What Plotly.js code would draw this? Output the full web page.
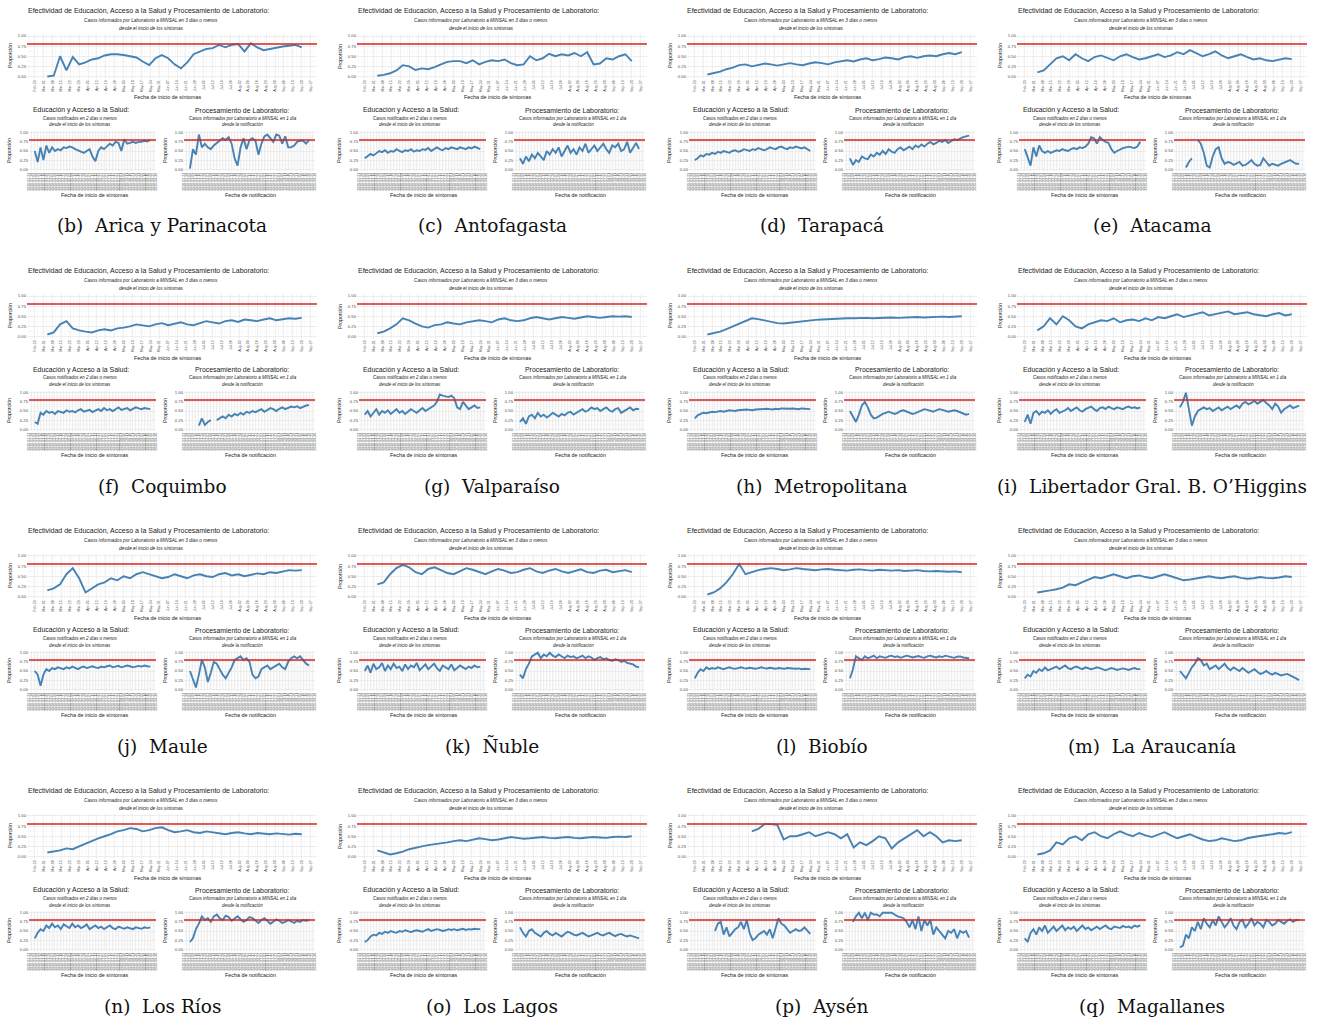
<!DOCTYPE html>
<html><head><meta charset="utf-8">
<script src="https://cdn.plot.ly/plotly-3.0.1.min.js"></script>
<style>html,body{margin:0;padding:0;background:#fff}#chart{width:1326px;height:1022px}</style>
</head><body><div id="chart"></div>
<script>
// ---- data ----
const dates = ['2020-03-04','2020-03-09','2020-03-14','2020-03-19','2020-03-24','2020-03-29','2020-04-03','2020-04-08','2020-04-13','2020-04-18','2020-04-23','2020-04-28','2020-05-03','2020-05-08','2020-05-13','2020-05-18','2020-05-23','2020-05-28','2020-06-02','2020-06-07','2020-06-12','2020-06-17','2020-06-22','2020-06-27','2020-07-02','2020-07-07','2020-07-12','2020-07-17','2020-07-22','2020-07-27','2020-08-01','2020-08-06','2020-08-11','2020-08-16','2020-08-21','2020-08-26','2020-08-31','2020-09-05','2020-09-10','2020-09-15','2020-09-20'];

const captions = ['(b)\u00a0 Arica y Parinacota','(c)\u00a0 Antofagasta','(d)\u00a0 Tarapacá','(e)\u00a0 Atacama','(f)\u00a0 Coquimbo','(g)\u00a0 Valparaíso','(h)\u00a0 Metropolitana',"(i)\u00a0 Libertador Gral. B. O’Higgins",'(j)\u00a0 Maule','(k)\u00a0 Ñuble','(l)\u00a0 Biobío','(m)\u00a0 La Araucanía','(n)\u00a0 Los Ríos','(o)\u00a0 Los Lagos','(p)\u00a0 Aysén','(q)\u00a0 Magallanes'];

const topTitle = 'Efectividad de Educación, Acceso a la Salud y Procesamiento de Laboratorio:';
const topSub = ['Casos informados por Laboratorio a MINSAL en 3 días o menos','desde el inicio de los síntomas'];
const eduTitle = 'Educación y Acceso a la Salud:';
const eduSub = ['Casos notificados en 2 días o menos','desde el inicio de los síntomas'];
const labTitle = 'Procesamiento de Laboratorio:';
const labSub = ['Casos informados por Laboratorio a MINSAL en 1 día','desde la notificación'];
const yTitle = 'Proporción';
const xTitleSint = 'Fecha de inicio de síntomas';
const xTitleNotif = 'Fecha de notificación';
const target = 0.8;
const yTicks = [0, 0.25, 0.5, 0.75, 1];

const aricaTop = [0.00,0.02,0.50,0.15,0.48,0.30,0.35,0.42,0.45,0.52,0.55,0.55,0.53,0.50,0.47,0.37,0.28,0.45,0.53,0.45,0.30,0.20,0.35,0.55,0.62,0.68,0.70,0.78,0.72,0.78,0.80,0.62,0.82,0.72,0.65,0.68,0.72,0.74,0.76,0.78,0.72];
const aricaEdu = [0.50,0.20,0.60,0.25,0.65,0.45,0.60,0.50,0.55,0.52,0.60,0.58,0.62,0.60,0.55,0.52,0.50,0.45,0.50,0.55,0.35,0.22,0.50,0.60,0.55,0.62,0.70,0.65,0.75,0.72,0.50,0.82,0.70,0.72,0.75,0.72,0.75,0.75,0.78,0.76,0.80];
const aricaLab = [0.02,0.55,0.40,0.95,0.60,0.70,0.60,0.55,0.65,0.72,0.80,0.85,0.80,0.88,0.70,0.30,0.10,0.60,0.85,0.55,0.80,0.85,0.78,0.40,0.70,0.90,0.95,0.85,0.75,0.95,0.92,0.70,0.90,0.60,0.60,0.65,0.75,0.78,0.78,0.70,0.80];

const antofTop = [0.02,0.04,0.08,0.15,0.28,0.25,0.16,0.20,0.18,0.23,0.30,0.36,0.38,0.38,0.33,0.40,0.30,0.36,0.40,0.38,0.42,0.33,0.28,0.30,0.50,0.40,0.45,0.56,0.50,0.55,0.52,0.58,0.50,0.60,0.30,0.32,0.45,0.42,0.50,0.55,0.38];
const antofEdu = [0.30,0.35,0.42,0.38,0.45,0.50,0.47,0.52,0.45,0.50,0.48,0.55,0.50,0.47,0.52,0.50,0.55,0.48,0.52,0.50,0.55,0.53,0.58,0.50,0.55,0.60,0.55,0.52,0.58,0.55,0.60,0.57,0.55,0.60,0.58,0.55,0.60,0.57,0.62,0.58,0.55];
const antofLab = [0.30,0.15,0.35,0.22,0.40,0.30,0.45,0.35,0.25,0.50,0.40,0.55,0.45,0.60,0.35,0.50,0.65,0.45,0.55,0.40,0.60,0.50,0.70,0.45,0.55,0.65,0.50,0.60,0.70,0.55,0.45,0.65,0.60,0.70,0.50,0.55,0.75,0.45,0.60,0.72,0.55];

const tarapTop = [0.05,0.08,0.12,0.18,0.22,0.28,0.30,0.25,0.28,0.32,0.30,0.27,0.30,0.33,0.30,0.28,0.32,0.35,0.33,0.30,0.35,0.38,0.40,0.37,0.42,0.45,0.40,0.43,0.47,0.45,0.42,0.48,0.50,0.46,0.50,0.52,0.50,0.55,0.58,0.55,0.60];
const tarapEdu = [0.25,0.30,0.38,0.35,0.42,0.40,0.45,0.42,0.48,0.45,0.50,0.47,0.45,0.50,0.52,0.48,0.50,0.55,0.52,0.50,0.55,0.53,0.58,0.55,0.52,0.55,0.60,0.57,0.55,0.60,0.62,0.58,0.55,0.60,0.58,0.62,0.60,0.57,0.60,0.55,0.50];
const tarapLab = [0.30,0.12,0.25,0.20,0.35,0.30,0.28,0.40,0.35,0.45,0.40,0.50,0.42,0.55,0.48,0.45,0.55,0.60,0.52,0.58,0.62,0.55,0.65,0.60,0.68,0.62,0.70,0.75,0.68,0.72,0.78,0.75,0.80,0.72,0.78,0.82,0.80,0.85,0.88,0.90,0.92];

const atacTop = [0.10,0.15,0.30,0.45,0.50,0.40,0.55,0.45,0.38,0.48,0.52,0.45,0.40,0.50,0.55,0.48,0.42,0.45,0.50,0.55,0.48,0.52,0.60,0.55,0.65,0.58,0.50,0.55,0.62,0.52,0.45,0.50,0.55,0.48,0.42,0.45,0.40,0.38,0.42,0.45,0.43];
const atacEdu = [0.55,0.30,0.10,0.60,0.35,0.65,0.50,0.45,0.50,0.45,0.48,0.52,0.50,0.55,0.52,0.50,0.55,0.58,0.55,0.60,0.58,0.62,0.70,0.88,0.85,0.70,0.88,0.80,0.75,0.72,0.55,0.45,0.50,0.55,0.58,0.60,0.62,0.60,0.58,0.62,0.75];
const atacLab = [null,null,0.05,0.20,0.30,null,0.80,0.70,0.45,0.10,0.05,0.35,0.55,0.60,0.30,0.15,0.20,0.18,0.12,0.15,0.20,0.10,0.12,0.18,0.25,0.15,0.10,0.12,0.30,0.20,0.10,0.15,0.12,0.10,0.15,0.18,0.22,0.25,0.20,0.15,0.15];

const coqTop = [0.05,0.10,0.30,0.38,0.20,0.15,0.12,0.10,0.15,0.18,0.15,0.20,0.22,0.25,0.30,0.28,0.25,0.30,0.33,0.28,0.32,0.35,0.30,0.28,0.33,0.38,0.35,0.32,0.38,0.40,0.36,0.42,0.40,0.38,0.42,0.45,0.40,0.43,0.45,0.44,0.46];
const coqEdu = [0.20,0.15,0.45,0.40,0.50,0.45,0.48,0.42,0.50,0.47,0.45,0.52,0.48,0.50,0.46,0.52,0.55,0.48,0.50,0.53,0.47,0.52,0.55,0.50,0.58,0.52,0.55,0.50,0.56,0.60,0.53,0.55,0.58,0.52,0.55,0.60,0.57,0.55,0.58,0.56,0.55];
const coqLab = [null,null,null,0.10,0.30,0.12,0.20,0.25,null,0.25,0.30,0.35,0.30,0.40,0.35,0.42,0.38,0.45,0.40,0.48,0.45,0.50,0.47,0.52,0.55,0.48,0.52,0.58,0.55,0.50,0.56,0.60,0.55,0.58,0.62,0.60,0.63,0.58,0.62,0.65,0.66];

const valpTop = [0.08,0.12,0.20,0.30,0.45,0.40,0.32,0.25,0.22,0.28,0.30,0.35,0.32,0.30,0.35,0.38,0.40,0.38,0.35,0.42,0.45,0.40,0.38,0.40,0.45,0.48,0.45,0.42,0.45,0.48,0.46,0.44,0.47,0.50,0.48,0.46,0.48,0.50,0.49,0.50,0.48];
const valpEdu = [0.40,0.50,0.35,0.45,0.55,0.40,0.50,0.45,0.52,0.42,0.48,0.55,0.45,0.50,0.42,0.48,0.55,0.50,0.45,0.52,0.58,0.50,0.55,0.60,0.65,0.75,0.95,0.92,0.90,0.88,0.92,0.85,0.60,0.55,0.75,0.65,0.55,0.60,0.65,0.58,0.60];
const valpLab = [0.20,0.30,0.15,0.35,0.40,0.30,0.45,0.35,0.40,0.32,0.38,0.45,0.40,0.35,0.42,0.38,0.45,0.48,0.40,0.45,0.50,0.55,0.48,0.52,0.60,0.55,0.58,0.50,0.55,0.60,0.52,0.48,0.55,0.58,0.45,0.50,0.55,0.60,0.52,0.56,0.55];

const metroTop = [0.05,0.08,0.12,0.18,0.25,0.32,0.40,0.45,0.43,0.40,0.36,0.33,0.32,0.34,0.36,0.38,0.40,0.41,0.42,0.43,0.44,0.44,0.45,0.45,0.46,0.46,0.45,0.46,0.47,0.47,0.46,0.47,0.48,0.48,0.47,0.48,0.49,0.49,0.48,0.49,0.50];
const metroEdu = [0.30,0.38,0.42,0.45,0.44,0.46,0.48,0.47,0.49,0.50,0.48,0.50,0.52,0.51,0.50,0.52,0.53,0.52,0.54,0.53,0.52,0.54,0.55,0.54,0.55,0.56,0.55,0.54,0.56,0.55,0.57,0.56,0.55,0.56,0.57,0.56,0.55,0.57,0.56,0.55,0.55];
const metroLab = [0.50,0.35,0.20,0.40,0.65,0.75,0.60,0.40,0.30,0.32,0.38,0.42,0.45,0.48,0.45,0.42,0.45,0.50,0.52,0.48,0.45,0.42,0.44,0.48,0.52,0.55,0.53,0.50,0.48,0.52,0.55,0.53,0.50,0.48,0.50,0.52,0.50,0.47,0.45,0.40,0.42];

const ohigTop = [0.15,0.25,0.45,0.30,0.50,0.40,0.25,0.20,0.30,0.35,0.40,0.38,0.45,0.35,0.40,0.42,0.38,0.45,0.40,0.48,0.45,0.50,0.55,0.48,0.52,0.55,0.60,0.52,0.55,0.58,0.62,0.55,0.57,0.60,0.55,0.52,0.50,0.55,0.58,0.52,0.55];
const ohigEdu = [0.20,0.40,0.15,0.45,0.50,0.40,0.48,0.45,0.52,0.42,0.50,0.55,0.45,0.48,0.52,0.58,0.50,0.55,0.60,0.52,0.48,0.55,0.58,0.62,0.55,0.50,0.58,0.60,0.55,0.62,0.58,0.55,0.60,0.57,0.55,0.60,0.62,0.58,0.60,0.57,0.60];
const ohigLab = [0.60,0.75,1.00,0.55,0.10,0.35,0.50,0.55,0.60,0.55,0.58,0.50,0.55,0.60,0.52,0.58,0.62,0.55,0.60,0.65,0.58,0.70,0.75,0.68,0.72,0.78,0.70,0.75,0.80,0.72,0.65,0.55,0.70,0.62,0.45,0.55,0.60,0.65,0.58,0.62,0.65];

const mauleTop = [0.15,0.20,0.30,0.55,0.70,0.45,0.10,0.20,0.30,0.35,0.45,0.40,0.50,0.45,0.55,0.60,0.55,0.50,0.45,0.48,0.55,0.50,0.45,0.52,0.55,0.50,0.48,0.55,0.58,0.52,0.55,0.50,0.53,0.57,0.55,0.60,0.58,0.62,0.65,0.64,0.65];
const mauleEdu = [0.50,0.40,0.10,0.40,0.55,0.50,0.58,0.55,0.60,0.58,0.55,0.60,0.57,0.62,0.58,0.55,0.60,0.62,0.58,0.60,0.63,0.60,0.58,0.62,0.60,0.63,0.65,0.60,0.62,0.64,0.60,0.62,0.65,0.63,0.60,0.62,0.64,0.62,0.65,0.63,0.62];
const mauleLab = [0.50,0.30,0.05,0.40,0.80,0.60,0.20,0.45,0.75,0.70,0.55,0.40,0.30,0.45,0.60,0.80,0.85,0.90,0.80,0.85,0.75,0.40,0.30,0.35,0.55,0.60,0.65,0.55,0.60,0.65,0.70,0.60,0.55,0.75,0.85,0.90,0.85,0.90,0.80,0.70,0.65];

const nubleTop = [0.30,0.35,0.55,0.70,0.78,0.72,0.60,0.55,0.68,0.72,0.65,0.58,0.55,0.62,0.70,0.66,0.60,0.55,0.62,0.68,0.64,0.58,0.60,0.66,0.70,0.62,0.58,0.64,0.68,0.62,0.58,0.63,0.67,0.60,0.58,0.64,0.66,0.60,0.62,0.65,0.60];
const nubleEdu = [0.50,0.65,0.45,0.70,0.55,0.60,0.72,0.50,0.65,0.55,0.70,0.58,0.62,0.50,0.68,0.55,0.65,0.60,0.72,0.52,0.60,0.68,0.55,0.62,0.70,0.58,0.50,0.65,0.60,0.55,0.68,0.52,0.58,0.65,0.60,0.55,0.62,0.58,0.65,0.60,0.62];
const nubleLab = [0.40,0.30,0.55,0.70,0.90,0.95,1.00,0.85,0.95,0.90,1.00,0.92,0.88,0.95,0.90,0.85,0.92,0.88,0.90,0.85,0.88,0.92,0.85,0.90,0.87,0.80,0.85,0.88,0.82,0.85,0.80,0.78,0.82,0.80,0.75,0.78,0.72,0.70,0.68,0.62,0.60];

const biobioTop = [0.05,0.10,0.20,0.35,0.55,0.80,0.55,0.60,0.65,0.68,0.70,0.68,0.65,0.67,0.70,0.68,0.66,0.65,0.67,0.68,0.66,0.65,0.64,0.66,0.67,0.65,0.64,0.66,0.65,0.64,0.65,0.63,0.64,0.65,0.63,0.62,0.63,0.62,0.61,0.62,0.60];
const biobioEdu = [0.30,0.45,0.55,0.50,0.60,0.55,0.58,0.56,0.60,0.57,0.55,0.58,0.60,0.57,0.56,0.58,0.60,0.58,0.57,0.59,0.58,0.56,0.58,0.60,0.58,0.57,0.59,0.58,0.56,0.58,0.57,0.56,0.58,0.57,0.55,0.56,0.57,0.55,0.56,0.55,0.55];
const biobioLab = [0.30,0.55,0.90,0.85,0.80,0.90,0.85,0.88,0.92,0.85,0.90,0.88,0.86,0.90,0.92,0.88,0.90,0.86,0.88,0.92,0.90,0.87,0.89,0.91,0.88,0.86,0.90,0.92,0.89,0.87,0.90,0.88,0.92,0.90,0.88,0.86,0.89,0.90,0.87,0.86,0.85];

const araucTop = [0.10,0.12,0.15,0.18,0.22,0.30,0.28,0.35,0.42,0.48,0.45,0.50,0.55,0.50,0.45,0.50,0.52,0.48,0.45,0.50,0.55,0.50,0.45,0.40,0.42,0.45,0.48,0.50,0.47,0.45,0.48,0.50,0.46,0.44,0.45,0.48,0.46,0.45,0.47,0.50,0.48];
const araucEdu = [0.30,0.40,0.35,0.50,0.45,0.55,0.50,0.60,0.52,0.55,0.58,0.62,0.55,0.60,0.65,0.58,0.55,0.60,0.62,0.58,0.55,0.60,0.58,0.55,0.57,0.60,0.58,0.55,0.52,0.55,0.58,0.56,0.53,0.55,0.57,0.55,0.53,0.56,0.58,0.55,0.55];
const araucLab = [0.50,0.40,0.30,0.45,0.60,0.70,0.85,0.80,0.65,0.70,0.55,0.60,0.65,0.55,0.62,0.70,0.58,0.52,0.60,0.55,0.50,0.58,0.52,0.45,0.50,0.55,0.48,0.42,0.45,0.50,0.44,0.40,0.45,0.42,0.38,0.40,0.42,0.38,0.35,0.30,0.25];

const riosTop = [0.10,0.12,0.15,0.20,0.18,0.25,0.32,0.40,0.45,0.50,0.55,0.62,0.65,0.70,0.68,0.62,0.65,0.70,0.72,0.65,0.60,0.62,0.65,0.60,0.58,0.62,0.60,0.58,0.55,0.58,0.60,0.57,0.55,0.58,0.56,0.55,0.57,0.55,0.54,0.56,0.55];
const riosEdu = [0.30,0.45,0.55,0.50,0.65,0.58,0.70,0.60,0.65,0.55,0.68,0.62,0.58,0.70,0.60,0.65,0.58,0.62,0.68,0.55,0.60,0.65,0.58,0.62,0.55,0.60,0.65,0.58,0.55,0.62,0.60,0.56,0.60,0.58,0.55,0.60,0.58,0.56,0.60,0.58,0.60];
const riosLab = [0.20,0.30,0.55,0.70,0.90,0.80,0.85,0.75,0.90,0.95,0.85,0.80,0.92,0.88,0.78,0.85,0.90,0.82,0.75,0.80,0.88,0.85,0.78,0.72,0.80,0.85,0.78,0.70,0.75,0.82,0.78,0.72,0.75,0.80,0.76,0.72,0.78,0.75,0.80,0.78,0.80];

const lagosTop = [0.15,0.10,0.05,0.08,0.12,0.18,0.22,0.25,0.28,0.30,0.32,0.35,0.38,0.40,0.38,0.42,0.45,0.43,0.40,0.42,0.45,0.48,0.46,0.44,0.45,0.47,0.48,0.46,0.45,0.47,0.48,0.46,0.45,0.47,0.48,0.47,0.46,0.48,0.49,0.48,0.50];
const lagosEdu = [0.20,0.25,0.35,0.40,0.38,0.45,0.42,0.48,0.45,0.50,0.47,0.45,0.50,0.48,0.52,0.50,0.47,0.50,0.52,0.50,0.48,0.52,0.55,0.50,0.52,0.55,0.53,0.50,0.52,0.55,0.53,0.55,0.52,0.54,0.56,0.53,0.55,0.54,0.56,0.55,0.55];
const lagosLab = [0.60,0.45,0.35,0.50,0.55,0.45,0.40,0.35,0.45,0.50,0.42,0.38,0.45,0.40,0.35,0.42,0.48,0.45,0.40,0.38,0.42,0.45,0.40,0.35,0.38,0.42,0.45,0.40,0.38,0.42,0.45,0.40,0.36,0.40,0.42,0.38,0.35,0.38,0.36,0.32,0.30];

const aysenTop = [null,null,null,null,null,null,null,0.62,0.68,0.80,0.80,0.78,0.42,0.50,0.50,0.55,0.60,0.50,0.55,0.60,0.55,0.45,0.55,0.22,0.35,0.28,0.38,0.50,0.45,0.20,0.35,0.45,0.55,0.65,0.50,0.60,0.50,0.35,0.40,0.38,0.40];
const aysenEdu = [null,null,null,null,null,null,null,0.50,0.70,0.75,0.40,0.60,0.35,0.45,0.55,0.60,0.75,0.55,0.80,0.45,0.25,0.30,0.40,0.45,0.50,0.40,0.55,0.30,0.55,0.85,0.70,0.65,0.55,0.45,0.50,0.55,0.50,0.52,0.60,0.50,0.42];
const aysenLab = [null,0.75,0.90,1.00,0.85,1.00,0.80,1.00,0.95,0.95,0.90,1.00,1.00,0.98,1.00,0.95,0.90,0.88,0.85,0.75,0.60,0.80,0.55,0.90,0.50,0.80,0.65,0.80,0.40,0.60,0.50,0.40,0.30,0.50,0.45,0.55,0.30,0.50,0.45,0.50,0.32];

const magTop = [0.05,0.08,0.15,0.35,0.30,0.45,0.50,0.40,0.55,0.60,0.50,0.45,0.55,0.62,0.55,0.50,0.58,0.52,0.48,0.55,0.60,0.52,0.45,0.50,0.55,0.48,0.42,0.38,0.40,0.45,0.42,0.38,0.40,0.45,0.48,0.50,0.52,0.55,0.58,0.56,0.60];
const magEdu = [0.30,0.20,0.45,0.55,0.40,0.60,0.50,0.65,0.45,0.55,0.62,0.50,0.58,0.65,0.52,0.60,0.55,0.62,0.50,0.58,0.65,0.55,0.60,0.52,0.58,0.62,0.55,0.60,0.65,0.58,0.55,0.62,0.60,0.58,0.64,0.60,0.62,0.58,0.65,0.62,0.65];
const magLab = [0.05,0.10,0.40,0.30,0.60,0.50,0.75,0.55,0.85,0.70,0.60,0.80,0.65,0.90,0.75,0.60,0.70,0.85,0.65,0.55,0.75,0.80,0.60,0.70,0.85,0.65,0.75,0.70,0.60,0.80,0.75,0.65,0.70,0.80,0.75,0.70,0.78,0.82,0.75,0.80,0.80];

const panels = [
  [aricaTop, aricaEdu, aricaLab], [antofTop, antofEdu, antofLab], [tarapTop, tarapEdu, tarapLab], [atacTop, atacEdu, atacLab],
  [coqTop, coqEdu, coqLab], [valpTop, valpEdu, valpLab], [metroTop, metroEdu, metroLab], [ohigTop, ohigEdu, ohigLab],
  [mauleTop, mauleEdu, mauleLab], [nubleTop, nubleEdu, nubleLab], [biobioTop, biobioEdu, biobioLab], [araucTop, araucEdu, araucLab],
  [riosTop, riosEdu, riosLab], [lagosTop, lagosEdu, lagosLab], [aysenTop, aysenEdu, aysenLab], [magTop, magEdu, magLab]
];

// ---- layout geometry (pixels) ----
const W = 1326, H = 1022;
const colStep = 330, rowStep = 260;
const boxes = {
  top: {x0: 27, x1: 317, y1: 36, y0: 76.5, range: ['2020-02-17', '2020-10-02'], dtick: 7, fmt: '%b-%d', fs: 3.6},
  edu: {x0: 29, x1: 156, y1: 132.7, y0: 169.3, range: ['2020-02-23', '2020-09-30'], dtick: 5, fmt: '%Y-%m-%d', fs: 3.5},
  lab: {x0: 184, x1: 315, y1: 132.7, y0: 169.3, range: ['2020-02-23', '2020-09-30'], dtick: 5, fmt: '%Y-%m-%d', fs: 3.5}
};
const DAY = 86400000;
const traces = [];
const layout = {
  width: W, height: H, margin: {l: 0, r: 0, t: 0, b: 0}, showlegend: false,
  paper_bgcolor: '#ffffff', plot_bgcolor: '#ffffff',
  font: {family: 'Liberation Sans, Arial, sans-serif', color: '#1a1a1a'},
  annotations: [], shapes: []
};
const fx = x => x / W, fy = y => 1 - y / H;
function ann(text, x, y, size, extra) {
  layout.annotations.push(Object.assign({text: text, x: fx(x), y: fy(y), xref: 'paper', yref: 'paper',
    showarrow: false, xanchor: 'center', yanchor: 'middle', font: {size: size, color: '#1a1a1a'}}, extra || {}));
}
let k = 0;
function addSub(vals, ox, oy, b) {
  k++;
  const sfx = k === 1 ? '' : String(k);
  const span = b.y0 - b.y1;
  const yTopPx = oy + b.y1 - 0.05 * span, yBotPx = oy + b.y0 + 0.05 * span;
  layout['xaxis' + sfx] = {
    domain: [fx(ox + b.x0), fx(ox + b.x1)], anchor: 'y' + sfx, type: 'date', range: b.range,
    tick0: '2020-02-23', dtick: b.dtick * DAY, tickformat: b.fmt, tickangle: -90,
    tickfont: {size: b.fs, color: '#4d4d4d'}, showgrid: true, gridcolor: '#e6e6e6', gridwidth: 0.6,
    minor: {showgrid: true, gridcolor: '#f2f2f2', gridwidth: 0.4, dtick: b.dtick * DAY / 2},
    zeroline: false, showline: false, ticks: '', fixedrange: true
  };
  layout['yaxis' + sfx] = {
    domain: [fy(yBotPx), fy(yTopPx)], anchor: 'x' + sfx, range: [-0.05, 1.05],
    tickvals: yTicks, tickformat: '.2f', tickfont: {size: 4.2, color: '#4d4d4d'},
    showgrid: true, gridcolor: '#e6e6e6', gridwidth: 0.6,
    minor: {showgrid: true, gridcolor: '#f2f2f2', gridwidth: 0.4, tickmode: 'linear', tick0: 0, dtick: 0.125},
    zeroline: false, showline: false, ticks: '', fixedrange: true
  };
  traces.push({x: dates, y: vals, type: 'scatter', mode: 'lines', xaxis: 'x' + sfx, yaxis: 'y' + sfx,
    line: {color: '#4682B4', width: 1.9}, connectgaps: false, hoverinfo: 'skip'});
  layout.shapes.push({type: 'line', xref: 'x' + sfx + ' domain', x0: 0, x1: 1, yref: 'y' + sfx, y0: target, y1: target,
    line: {color: '#d1261f', width: 1.5}});
}

panels.forEach((p, idx) => {
  const ox = (idx % 4) * colStep, oy = Math.floor(idx / 4) * rowStep;
  addSub(p[0], ox, oy, boxes.top);
  addSub(p[1], ox, oy, boxes.edu);
  addSub(p[2], ox, oy, boxes.lab);
  // top subplot texts
  ann(topTitle, ox + 148, oy + 11, 7.0);
  ann('<i>' + topSub[0] + '</i>', ox + 151, oy + 20, 4.7);
  ann('<i>' + topSub[1] + '</i>', ox + 151, oy + 28, 4.7);
  ann(yTitle, ox + 10, oy + 56, 5.2, {textangle: -90});
  ann(xTitleSint, ox + 167, oy + 97.5, 5.4);
  // education subplot
  ann(eduTitle, ox + 81, oy + 110, 6.9);
  ann('<i>' + eduSub[0] + '</i>', ox + 80, oy + 118, 4.5);
  ann('<i>' + eduSub[1] + '</i>', ox + 80, oy + 125, 4.5);
  ann(yTitle, ox + 9, oy + 151, 5.2, {textangle: -90});
  ann(xTitleSint, ox + 94, oy + 194.5, 5.4);
  // laboratory subplot
  ann(labTitle, ox + 242, oy + 110, 6.9);
  ann('<i>' + labSub[0] + '</i>', ox + 243, oy + 118, 4.5);
  ann('<i>' + labSub[1] + '</i>', ox + 243, oy + 125, 4.5);
  ann(yTitle, ox + 165, oy + 151, 5.2, {textangle: -90});
  ann(xTitleNotif, ox + 250, oy + 194.5, 5.4);
  // caption
  ann(captions[idx], ox + 162, oy + 226, 18.5, {font: {size: 18.5, color: '#111', family: 'DejaVu Serif, Liberation Serif, serif'}});
});

Plotly.newPlot('chart', traces, layout, {staticPlot: true, displayModeBar: false});
</script>
</body></html>
